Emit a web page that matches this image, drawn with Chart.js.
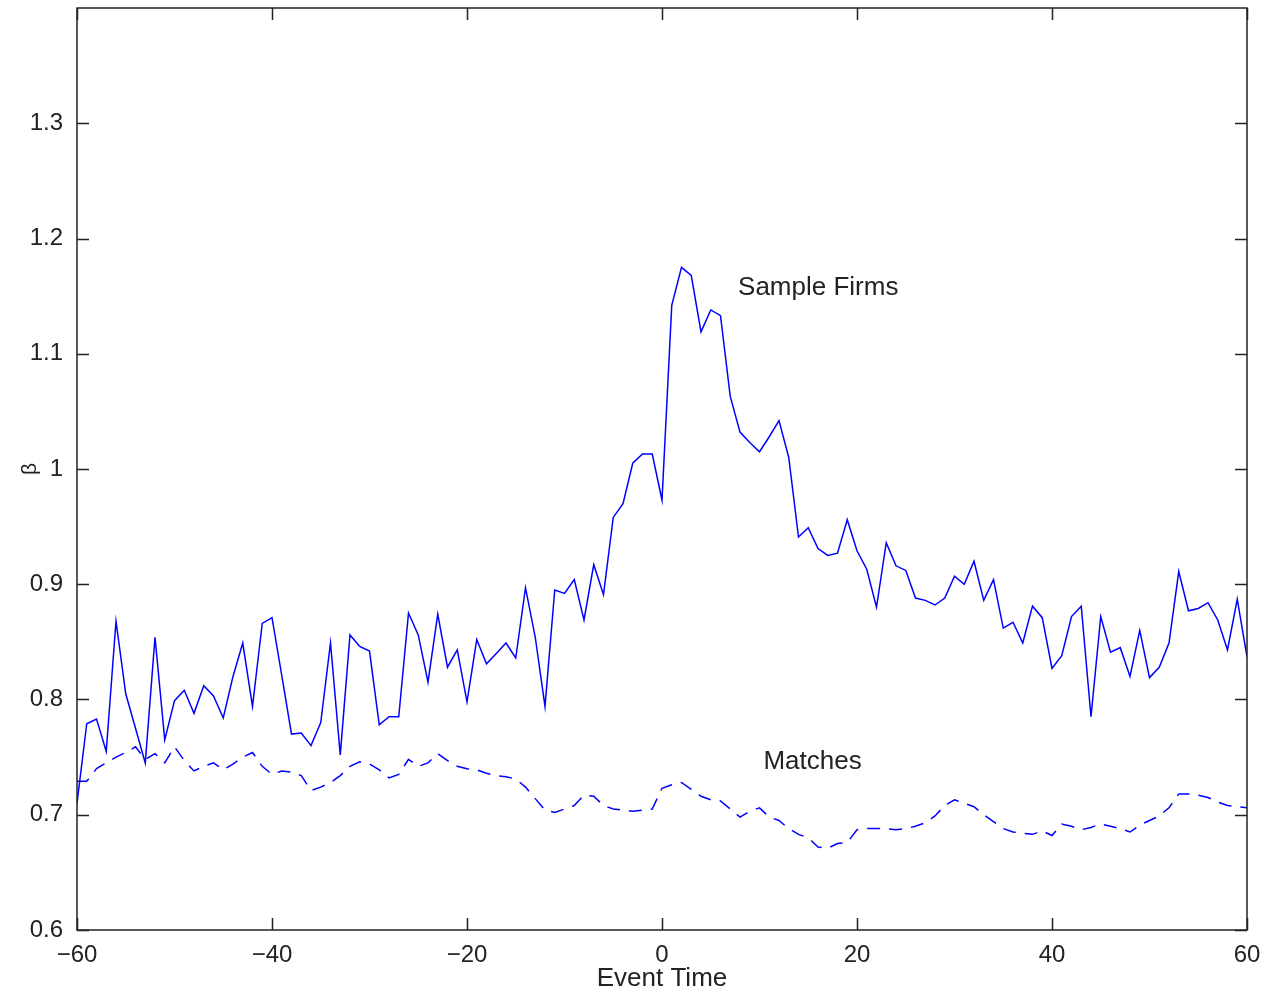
<!DOCTYPE html>
<html>
<head>
<meta charset="utf-8">
<script src="https://cdn.jsdelivr.net/npm/chart.js@4.4.0/dist/chart.umd.min.js"></script>
<style>
  html, body { margin: 0; padding: 0; background: #fff; }
  #wrap { width: 1266px; height: 994px; }
</style>
</head>
<body>
<div id="wrap"><canvas id="chart" width="1266" height="994"></canvas></div>
<script>
// event time, -60 .. 60
const eventTime = [
  -60, -59, -58, -57, -56, -55, -54, -53, -52, -51, -50, -49, -48, -47, -46, -45, -44, -43, -42, -41,
  -40, -39, -38, -37, -36, -35, -34, -33, -32, -31, -30, -29, -28, -27, -26, -25, -24, -23, -22, -21,
  -20, -19, -18, -17, -16, -15, -14, -13, -12, -11, -10, -9, -8, -7, -6, -5, -4, -3, -2, -1,
  0, 1, 2, 3, 4, 5, 6, 7, 8, 9, 10, 11, 12, 13, 14, 15, 16, 17, 18, 19,
  20, 21, 22, 23, 24, 25, 26, 27, 28, 29, 30, 31, 32, 33, 34, 35, 36, 37, 38, 39,
  40, 41, 42, 43, 44, 45, 46, 47, 48, 49, 50, 51, 52, 53, 54, 55, 56, 57, 58, 59, 60
];

// beta of the sample firms (solid line)
const sampleFirms = [
  0.710, 0.779, 0.783, 0.755, 0.868, 0.805, 0.775, 0.745, 0.854, 0.765, 0.799, 0.808, 0.788, 0.812, 0.803, 0.784, 0.820, 0.849, 0.794, 0.866,
  0.871, 0.821, 0.770, 0.771, 0.760, 0.780, 0.849, 0.752, 0.856, 0.846, 0.842, 0.778, 0.785, 0.785, 0.875, 0.856, 0.815, 0.874, 0.828, 0.843,
  0.798, 0.852, 0.831, 0.840, 0.849, 0.836, 0.897, 0.854, 0.794, 0.895, 0.892, 0.904, 0.869, 0.917, 0.891, 0.958, 0.970, 1.005, 1.013, 1.013,
  0.973, 1.142, 1.175, 1.168, 1.119, 1.138, 1.133, 1.063, 1.032, 1.023, 1.015, 1.028, 1.042, 1.010, 0.941, 0.949, 0.931, 0.925, 0.927, 0.956,
  0.929, 0.913, 0.880, 0.936, 0.916, 0.912, 0.888, 0.886, 0.882, 0.888, 0.907, 0.900, 0.920, 0.886, 0.904, 0.862, 0.867, 0.849, 0.881, 0.871,
  0.827, 0.838, 0.872, 0.881, 0.785, 0.872, 0.841, 0.845, 0.820, 0.860, 0.819, 0.828, 0.849, 0.911, 0.877, 0.879, 0.884, 0.869, 0.843, 0.887, 0.837
];

// beta of the matched firms (dashed line)
const matches = [
  0.729, 0.729, 0.740, 0.745, 0.750, 0.754, 0.759, 0.748, 0.753, 0.745, 0.759, 0.747, 0.738, 0.742, 0.745, 0.739, 0.744, 0.750, 0.754, 0.742,
  0.735, 0.738, 0.737, 0.734, 0.721, 0.724, 0.728, 0.734, 0.742, 0.746, 0.744, 0.739, 0.732, 0.735, 0.748, 0.742, 0.745, 0.753, 0.747, 0.742,
  0.740, 0.739, 0.736, 0.734, 0.733, 0.731, 0.724, 0.714, 0.704, 0.702, 0.705, 0.708, 0.717, 0.716, 0.708, 0.705, 0.704, 0.703, 0.704, 0.705,
  0.723, 0.726, 0.728, 0.722, 0.716, 0.713, 0.712, 0.705, 0.698, 0.703, 0.706, 0.698, 0.695, 0.688, 0.683, 0.680, 0.672, 0.671, 0.675, 0.676,
  0.687, 0.688, 0.688, 0.688, 0.687, 0.688, 0.690, 0.693, 0.699, 0.708, 0.713, 0.710, 0.707, 0.700, 0.694, 0.688, 0.685, 0.684, 0.683, 0.686,
  0.682, 0.692, 0.690, 0.687, 0.689, 0.692, 0.690, 0.688, 0.685, 0.691, 0.695, 0.699, 0.706, 0.718, 0.718, 0.717, 0.715, 0.711, 0.708, 0.707, 0.706
];

const xTicks = [-60, -40, -20, 0, 20, 40, 60];
const yTicks = [0.6, 0.7, 0.8, 0.9, 1.0, 1.1, 1.2, 1.3];

// text labels placed in data coordinates
const notes = [
  { text: 'Sample Firms', x: 7.8, y: 1.157 },
  { text: 'Matches', x: 10.4, y: 0.746 },
];

const FONT = 'Liberation Sans, Arial, Helvetica, sans-serif';
const INK = '#222';

const toPoints = vals => vals.map((v, i) => ({ x: eventTime[i], y: v }));

// MATLAB style box with inward ticks on all four sides + in-plot labels
const boxPlugin = {
  id: 'box',
  afterDraw(chart) {
    const { ctx, chartArea: a, scales: { x, y } } = chart;
    const len = 12;
    ctx.save();
    ctx.strokeStyle = INK;
    ctx.lineWidth = 1.5;
    ctx.strokeRect(a.left, a.top, a.right - a.left, a.bottom - a.top);
    ctx.beginPath();
    xTicks.forEach(v => {
      const px = Math.round(x.getPixelForValue(v)) + 0.5;
      ctx.moveTo(px, a.bottom); ctx.lineTo(px, a.bottom - len);
      ctx.moveTo(px, a.top);    ctx.lineTo(px, a.top + len);
    });
    yTicks.forEach(v => {
      const py = Math.round(y.getPixelForValue(v)) + 0.5;
      ctx.moveTo(a.left, py);  ctx.lineTo(a.left + len, py);
      ctx.moveTo(a.right, py); ctx.lineTo(a.right - len, py);
    });
    ctx.stroke();

    ctx.fillStyle = INK;
    ctx.font = `26px ${FONT}`;
    ctx.textAlign = 'left';
    ctx.textBaseline = 'middle';
    notes.forEach(n => ctx.fillText(n.text, x.getPixelForValue(n.x), y.getPixelForValue(n.y)));
    ctx.restore();
  }
};

new Chart(document.getElementById('chart'), {
  type: 'line',
  data: {
    datasets: [
      {
        label: 'Sample Firms',
        data: toPoints(sampleFirms),
        borderColor: '#0000ff',
        borderWidth: 1.5,
        pointRadius: 0,
        tension: 0,
      },
      {
        label: 'Matches',
        data: toPoints(matches),
        borderColor: '#0000ff',
        borderWidth: 1.5,
        borderDash: [13, 9],
        pointRadius: 0,
        tension: 0,
      }
    ]
  },
  options: {
    responsive: false,
    animation: false,
    devicePixelRatio: 1,
    layout: { padding: { top: 8, right: 19, left: 0, bottom: 0 } },
    plugins: { legend: { display: false }, tooltip: { enabled: false } },
    scales: {
      x: {
        type: 'linear',
        min: -60, max: 60,
        afterBuildTicks: s => { s.ticks = xTicks.map(v => ({ value: v })); },
        afterFit: s => { s.height = 64; s.paddingLeft = 0; s.paddingRight = 0; },
        grid: { display: false },
        border: { display: false },
        ticks: {
          color: INK,
          font: { family: FONT, size: 24 },
          padding: 3,
          maxRotation: 0,
          callback: v => (v < 0 ? '\u2212' + Math.abs(v) : String(v)),
        },
        title: {
          display: true, text: 'Event Time', color: INK,
          font: { family: FONT, size: 26 },
          padding: { top: 0, bottom: 0 },
        },
      },
      y: {
        min: 0.6, max: 1.4,
        afterBuildTicks: s => { s.ticks = yTicks.map(v => ({ value: v })); },
        afterFit: s => { s.width = 77; s.paddingTop = 0; s.paddingBottom = 0; },
        grid: { display: false },
        border: { display: false },
        ticks: {
          color: INK,
          font: { family: FONT, size: 24 },
          padding: 6,
          callback: v => String(Math.round(v * 10) / 10),
        },
        title: {
          display: true, text: 'β', color: INK,
          font: { family: FONT, size: 21 },
          padding: { top: 18, bottom: 0 },
        },
      },
    },
  },
  plugins: [boxPlugin],
});
</script>
</body>
</html>
